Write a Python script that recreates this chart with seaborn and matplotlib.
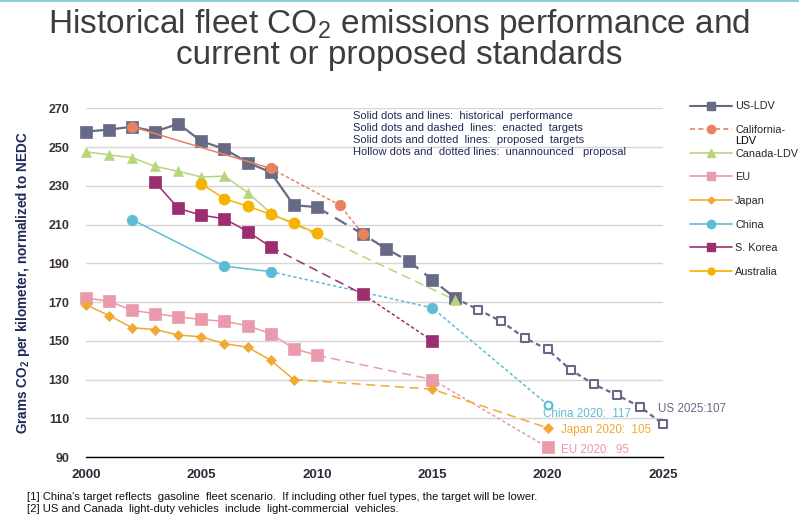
import numpy as np
import pandas as pd
import matplotlib.pyplot as plt
from matplotlib.lines import Line2D
import seaborn as sns

# values (grams CO2 per km, normalized to NEDC)
us_years = [2000, 2001, 2002, 2003, 2004, 2005, 2006, 2007, 2008, 2009, 2010,
            2012, 2013, 2014, 2015, 2016, 2017, 2018, 2019, 2020, 2021, 2022, 2023, 2024, 2025]
us_vals = [258, 259, 260.5, 258, 262, 253, 249, 242, 237, 220, 219,
           205, 197.5, 191, 181.5, 172, 166, 160, 151.5, 145.5, 135, 127.5, 122, 116, 107]

calif_years = [2002, 2008, 2011, 2012]
calif_vals = [260.5, 239, 220, 205]

canada_years = [2000, 2001, 2002, 2003, 2004, 2005, 2006, 2007, 2008, 2016]
canada_vals = [247.5, 246, 244.5, 240, 237.5, 234.5, 235, 226.5, 216, 171]

eu_years = [2000, 2001, 2002, 2003, 2004, 2005, 2006, 2007, 2008, 2009, 2010, 2015, 2020]
eu_vals = [172, 170.5, 165.7, 164, 162.3, 161, 160, 157.8, 153.7, 146, 142.5, 130, 95]

japan_years = [2000, 2001, 2002, 2003, 2004, 2005, 2006, 2007, 2008, 2009, 2015, 2020]
japan_vals = [168.6, 163, 156.7, 155.8, 153, 152, 148.5, 146.7, 140, 130, 125, 105]

china_years = [2002, 2006, 2008, 2015, 2020]
china_vals = [212.5, 188.5, 185.7, 167, 117]

korea_years = [2003, 2004, 2005, 2006, 2007, 2008, 2012, 2015]
korea_vals = [231.8, 218.4, 214.8, 213, 206.4, 198.5, 174, 150]

aus_years = [2005, 2006, 2007, 2008, 2009, 2010]
aus_vals = [231, 223.3, 219.5, 215.3, 210.7, 205.5]

series_names = ['US-LDV', 'California-', 'Canada-LDV', 'EU', 'Japan', 'China', 'S. Korea', 'Australia']
end_labels = ['US 2025:107', 'China 2020:  117', 'Japan 2020:  105', 'EU 2020:  95']
notes = ['Solid dots and lines:  historical  performance',
         'Solid dots and dashed  lines:  enacted  targets',
         'Solid dots and dotted  lines:  proposed  targets',
         'Hollow dots and  dotted lines:  unannounced   proposal']
footnotes = ['[1] China\'s target reflects  gasoline  fleet scenario.  If including other fuel types, the target will be lower.',
             '[2] US and Canada  light-duty vehicles  include  light-commercial  vehicles.']

# colours
c_us = '#666a86'
c_calif = '#e8825f'
c_canada = '#b7d67c'
c_eu = '#e99aab'
c_japan = '#f2a933'
c_china = '#5cbcd6'
c_korea = '#9c2e70'
c_aus = '#f5b300'
navy = '#1f2a5a'

sns.set_style('white')
plt.rcParams['font.family'] = ['Liberation Sans', 'DejaVu Sans']
plt.rcParams['mathtext.fontset'] = 'custom'
plt.rcParams['mathtext.rm'] = 'Liberation Sans'
plt.rcParams['mathtext.bf'] = 'Liberation Sans:bold'

DASHED = (0, (6, 3.5))
DOTTED = (0, (2.2, 1.6))

fig = plt.figure(figsize=(7.99, 5.18), dpi=100)
ax = fig.add_axes([86 / 799, 1 - 457 / 518, (663 - 86) / 799, (457 - 108.3) / 518])


def draw(years, vals, color, marker, parts, size, lw=1.1, hollow_from=None, z=3):
    df = pd.DataFrame({'year': years, 'val': vals})
    for y0, y1, ls in parts:
        seg = df[(df.year >= y0) & (df.year <= y1)]
        sns.lineplot(data=seg, x='year', y='val', color=color, linestyle=ls,
                     linewidth=lw, ax=ax, zorder=z, legend=False)
    solid = df if hollow_from is None else df[df.year < hollow_from]
    sns.scatterplot(data=solid, x='year', y='val', marker=marker, s=size, color=color,
                    edgecolor=color, linewidth=0.5, ax=ax, zorder=z + 0.5, clip_on=False, legend=False)
    if hollow_from is not None:
        hol = df[df.year >= hollow_from]
        sns.scatterplot(data=hol, x='year', y='val', marker=marker, s=size * 0.55, color='white',
                        edgecolor=color, linewidth=1.5, ax=ax, zorder=z + 0.5, clip_on=False, legend=False)


draw(us_years, us_vals, c_us, 's', [(2000, 2010, '-'), (2010, 2016, DASHED), (2016, 2025, DOTTED)],
     66, lw=1.6, hollow_from=2017, z=3)
draw(calif_years, calif_vals, c_calif, 'o', [(2002, 2008, '-'), (2008, 2012, DOTTED)], 58, z=4)
draw(canada_years, canada_vals, c_canada, '^', [(2000, 2008, '-'), (2008, 2016, DASHED)], 52, z=3.2)
draw(eu_years, eu_vals, c_eu, 's', [(2000, 2010, '-'), (2010, 2015, DASHED), (2015, 2020, DOTTED)], 66, z=3)
draw(japan_years, japan_vals, c_japan, 'D', [(2000, 2009, '-'), (2009, 2020, DASHED)], 26, z=3.3)
draw(china_years, china_vals, c_china, 'o', [(2002, 2008, '-'), (2008, 2020, DOTTED)], 58,
     hollow_from=2020, z=3)
draw(korea_years, korea_vals, c_korea, 's', [(2003, 2008, '-'), (2008, 2012, DASHED), (2012, 2015, DOTTED)],
     66, z=3.4)
draw(aus_years, aus_vals, c_aus, 'o', [(2005, 2010, '-')], 64, z=3.6)

# axes styling
ax.set_xlim(2000, 2025)
ax.set_ylim(90, 270)
ax.set_xticks(np.arange(2000, 2026, 5))
ax.set_yticks(np.arange(90, 271, 20))
ax.grid(axis='y', color='#d6d6d6', linewidth=1)
ax.grid(axis='x', visible=False)
for side in ['top', 'right', 'left']:
    ax.spines[side].set_visible(False)
ax.spines['bottom'].set_color('black')
ax.spines['bottom'].set_linewidth(1)
ax.tick_params(axis='x', direction='out', length=5, width=1, color='black', pad=4,
               labelsize=9.5, labelcolor='#2a2a3a')
ax.tick_params(axis='y', length=0, pad=12, labelsize=9, labelcolor='#3a3030')
for lab in ax.get_xticklabels() + ax.get_yticklabels():
    lab.set_fontweight('bold')
ax.set_xlabel('')
ax.set_ylabel('Grams CO$_\\mathbf{2}$ per kilometer, normalized to NEDC', fontsize=9.8,
              fontweight='bold', color=navy, labelpad=12)

# end-of-line labels
ax.text(2024.8, 115, end_labels[0], color=c_us, fontsize=8.4, va='center', ha='left', clip_on=False)
ax.text(2019.8, 112, end_labels[1], color=c_china, fontsize=8.4, va='center', ha='left')
ax.text(2020.6, 104, end_labels[2], color=c_japan, fontsize=8.4, va='center', ha='left')
ax.text(2020.6, 93.5, end_labels[3], color=c_eu, fontsize=8.4, va='center', ha='left')

# style notes
ax.text(2011.55, 268.8, '\n'.join(notes), color=navy, fontsize=8, va='top', ha='left',
        linespacing=1.25)

# legend
handles = [
    Line2D([], [], color=c_us, marker='s', markersize=6, lw=1.5),
    Line2D([], [], color=c_calif, marker='o', markersize=6, lw=1.2, linestyle=(0, (3, 2))),
    Line2D([], [], color=c_canada, marker='^', markersize=6, lw=1.2),
    Line2D([], [], color=c_eu, marker='s', markersize=6, lw=1.2),
    Line2D([], [], color=c_japan, marker='D', markersize=3.5, lw=1.2),
    Line2D([], [], color=c_china, marker='o', markersize=6, lw=1.2),
    Line2D([], [], color=c_korea, marker='s', markersize=6, lw=1.2),
    Line2D([], [], color=c_aus, marker='o', markersize=5, lw=1.2),
]
leg = fig.legend(handles, series_names, loc='upper left', bbox_to_anchor=(686 / 799, 1 - 97 / 518),
                 frameon=False, fontsize=7.8, handlelength=3.8, labelspacing=1.26,
                 handletextpad=0.35, borderaxespad=0)

# second line of the California label, placed right under the first one
fig.canvas.draw()
bb = leg.get_texts()[1].get_window_extent().transformed(fig.transFigure.inverted())
fig.text(bb.x0, bb.y0 - 1 / 518, 'LDV', fontsize=7.8, va='top', ha='left', color='black')

# title
fig.text(0.5, 1 - 39 / 518, 'Historical fleet CO$_2$ emissions performance and\ncurrent or proposed standards',
         ha='center', va='center', fontsize=24, color='#3d3d3d', linespacing=0.92)
fig.add_artist(Line2D([0, 1], [0.999, 0.999], color='#7cc3d0', lw=1.2))

# footnotes
fig.text(27 / 799, 1 - 497 / 518, footnotes[0], fontsize=8.1, color='#111111', va='center')
fig.text(27 / 799, 1 - 509 / 518, footnotes[1], fontsize=8.1, color='#111111', va='center')

fig.savefig('out.png', dpi=100)
